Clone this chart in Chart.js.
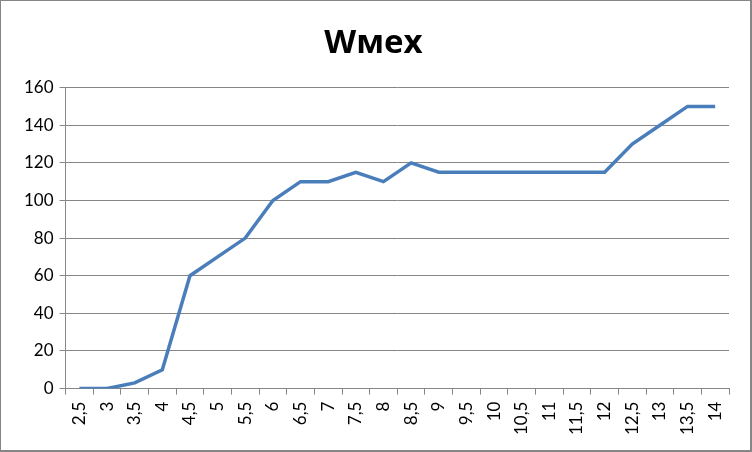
<!DOCTYPE html>
<html>
<head>
<meta charset="utf-8">
<script src="https://cdn.jsdelivr.net/npm/chart.js@4"></script>
<style>
  html, body { margin: 0; padding: 0; background: #fff; }
  #wrap { width: 749px; height: 449px; border: 1px solid #868686; border-right-width: 2px; border-bottom-width: 2px; position: relative; }
</style>
</head>
<body>
<div id="wrap"><canvas id="chart" width="749" height="449"></canvas></div>
<script>
// x categories (comma decimal as in the original)
var labels = ['2,5','3','3,5','4','4,5','5','5,5','6','6,5','7','7,5','8','8,5',
  '9','9,5','10','10,5','11','11,5','12','12,5','13','13,5','14'];
var wmex = [0, 0, 3, 10, 60, 70, 80, 100, 110, 110, 115, 110, 120,
  115, 115, 115, 115, 115, 115, 115, 130, 140, 150, 150];
var yTicks = [0, 20, 40, 60, 80, 100, 120, 140, 160];

Chart.defaults.font.family = 'Lato, "Open Sans", sans-serif';
Chart.defaults.color = '#000';

var ctx = document.getElementById('chart').getContext('2d');
var myChart = new Chart(ctx, {
  type: 'line',
  data: {
    labels: labels,
    datasets: [{
      label: 'Wмех',
      data: wmex,
      borderColor: '#4a7ebb',
      borderWidth: 3.5,
      pointRadius: 0,
      tension: 0,
      fill: false
    }]
  },
  options: {
    responsive: false,
    animation: false,
    layout: { padding: { left: 17, right: 21, top: 0, bottom: 8 } },
    plugins: {
      legend: { display: false },
      tooltip: { enabled: false },
      title: {
        display: true,
        text: 'Wмех',
        font: { size: 33, weight: 'bold', family: '"Open Sans", sans-serif' },
        padding: { top: 23, bottom: 24 }
      }
    },
    scales: {
      x: {
        offset: true,
        grid: {
          display: true,
          offset: true,
          drawOnChartArea: false,
          drawTicks: true,
          tickLength: 6,
          color: '#868686'
        },
        border: { color: '#868686' },
        ticks: {
          minRotation: 90,
          maxRotation: 90,
          autoSkip: false,
          font: { size: 17 },
          padding: 7
        }
      },
      y: {
        min: 0,
        max: 160,
        afterBuildTicks: function(axis) {
          axis.ticks = yTicks.map(function(v) { return { value: v }; });
        },
        grid: {
          color: '#868686',
          tickLength: 6
        },
        border: { color: '#868686' },
        ticks: {
          font: { size: 17 },
          padding: 6
        }
      }
    }
  }
});
</script>
</body>
</html>
